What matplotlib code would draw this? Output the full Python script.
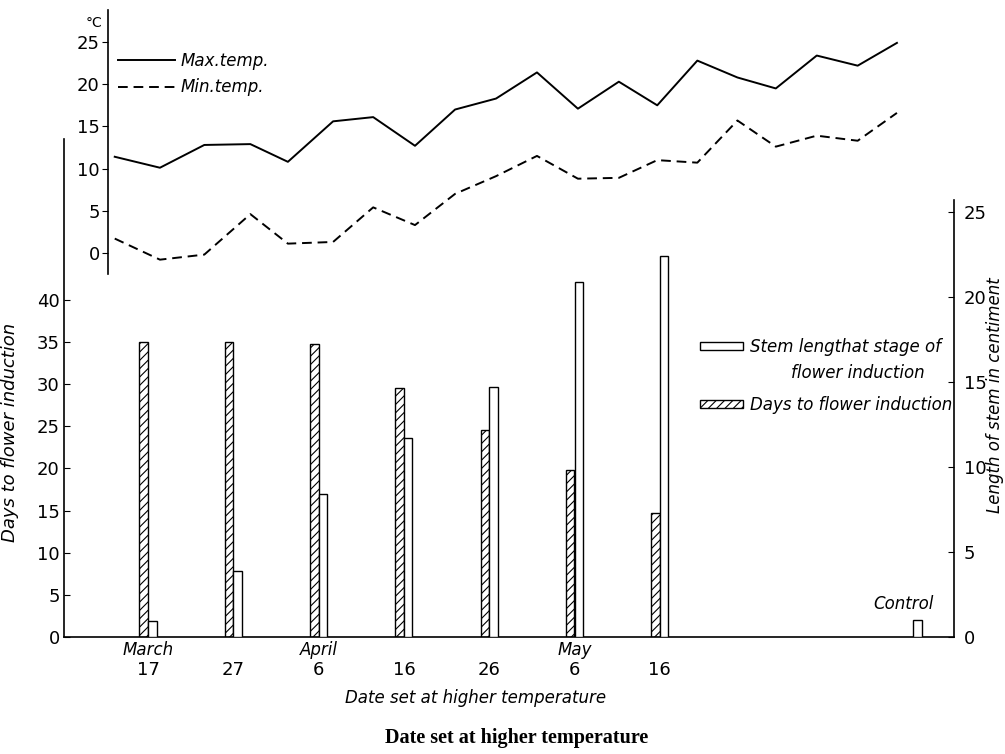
import numpy as np
import matplotlib.pyplot as plt
from matplotlib.lines import Line2D
from matplotlib.patches import Patch

# temperature (5-day means), x in days counted from March 1
temp_day = [13.1, 18.4, 23.6, 29.0, 33.4, 38.7, 43.4, 48.3, 53.0, 57.8,
            62.6, 67.4, 72.2, 76.7, 81.4, 86.1, 90.6, 95.4, 100.2, 104.8]
max_temp = [11.4, 10.1, 12.8, 12.9, 10.8, 15.6, 16.1, 12.7, 17.0, 18.3,
            21.4, 17.1, 20.3, 17.5, 22.8, 20.8, 19.5, 23.4, 22.2, 24.9]
min_temp = [1.7, -0.8, -0.2, 4.6, 1.1, 1.3, 5.4, 3.3, 7.0, 9.1,
            11.5, 8.8, 8.9, 11.0, 10.7, 15.7, 12.6, 13.9, 13.3, 16.6]

# dates set at higher temperature
set_day = [17, 27, 37, 47, 57, 67, 77]
date_labels = ['17', '27', '6', '16', '26', '6', '16']
month_day = [17, 37, 67]
month_labels = ['March', 'April', 'May']

days_to_flower = [35, 35, 34.8, 29.6, 24.6, 19.8, 14.7]
stem_length = [0.95, 3.9, 8.4, 11.7, 14.7, 20.9, 22.4]
control_day = 107.2
control_stem = 1.0

plt.rcParams['hatch.linewidth'] = 0.8
plt.rcParams['font.family'] = 'DejaVu Sans'

W, H = 1005, 754
fig = plt.figure(figsize=(W / 100, H / 100), dpi=100)

def px_box(x0, x1, ytop, ybot):
    return [x0 / W, 1 - ybot / H, (x1 - x0) / W, (ybot - ytop) / H]

# day <-> pixel: day 17 at x=148, 8.53 px per day
def px_day(px):
    return 17 + (px - 148) / 8.53

ital = dict(style='italic', fontsize=12)

# ---- bars (days, left axis) ----
ax = fig.add_axes(px_box(64, 954, 139, 637))
ax.patch.set_alpha(0)
ax.set_xlim(px_day(64), px_day(954))
ax.set_ylim(0, 59.1)
ax.bar(np.array(set_day) - 0.5, days_to_flower, width=1.0, facecolor='white',
       edgecolor='black', hatch='////', linewidth=1.0)
ax.set_yticks(np.arange(0, 41, 5))
ax.tick_params(axis='y', direction='in', length=4, pad=3, labelsize=13)
ax.set_xticks(set_day)
ax.set_xticklabels(date_labels)
ax.tick_params(axis='x', length=0, pad=17, labelsize=13)
for d, m in zip(month_day, month_labels):
    ax.annotate(m, xy=(d, 0), xycoords=('data', 'axes fraction'),
                xytext=(0, -3), textcoords='offset points',
                ha='center', va='top', **ital)
for s in ['top', 'right']:
    ax.spines[s].set_visible(False)
for s in ['left', 'bottom']:
    ax.spines[s].set_linewidth(1.2)
ax.set_xlabel('Date set at higher temperature', **ital)
ax.xaxis.set_label_coords(0.462, -0.105)
ax.set_ylabel('Days to flower induction', fontsize=13, style='italic')
ax.yaxis.set_label_coords(-0.05, 0.41)

# ---- stem length (right axis) ----
ax2 = ax.twinx()
ax2.set_ylim(0, 29.3)
ax2.bar(np.array(set_day) + 0.5, stem_length, width=1.0, facecolor='white',
        edgecolor='black', linewidth=1.0)
ax2.bar([control_day], [control_stem], width=1.0, facecolor='white',
        edgecolor='black', linewidth=1.0)
ax2.annotate('Control', xy=(control_day, control_stem), xytext=(-10, 5),
             textcoords='offset points', ha='center', va='bottom', **ital)
ax2.set_yticks(np.arange(0, 26, 5))
ax2.tick_params(axis='y', direction='in', length=4, pad=7, labelsize=13)
for s in ['top', 'left', 'bottom']:
    ax2.spines[s].set_visible(False)
ax2.spines['right'].set_linewidth(1.2)
ax2.spines['right'].set_bounds(0, 25.7)
ax2.set_ylabel('Length of stem in centiment', fontsize=12, style='italic')
ax2.yaxis.set_label_coords(1.036, 0.486)

fig.legend(handles=[Patch(facecolor='white', edgecolor='black', linewidth=1.0),
                    Patch(facecolor='white', edgecolor='black', hatch='////', linewidth=1.0)],
           labels=['Stem lengthat stage of', 'Days to flower induction'],
           loc='upper left', bbox_to_anchor=(700 / W, 1 - 338 / H),
           frameon=False, handlelength=2.6, handleheight=0.42, handletextpad=0.4,
           labelspacing=2.4, borderpad=0, borderaxespad=0,
           prop=dict(style='italic', size=12))
fig.text(925 / W, 1 - 373 / H, 'flower induction', ha='right', va='center', **ital)

# ---- temperature ----
axt = fig.add_axes(px_box(108, 954, 10, 274))
axt.patch.set_alpha(0)
axt.set_xlim(px_day(108), px_day(954))
axt.set_ylim(-2.5, 28.8)
axt.plot(temp_day, max_temp, color='black', lw=1.4, label='Max.temp.')
axt.plot(temp_day, min_temp, color='black', lw=1.4, ls=(0, (5, 3)), label='Min.temp.')
axt.set_yticks(np.arange(0, 26, 5))
axt.tick_params(axis='y', direction='out', length=4, pad=2, labelsize=13)
axt.set_xticks([])
for s in ['top', 'right', 'bottom']:
    axt.spines[s].set_visible(False)
axt.spines['left'].set_linewidth(1.2)
axt.annotate('°C', xy=(0, 1), xycoords='axes fraction', xytext=(-4, -4),
             textcoords='offset points', ha='right', va='top', fontsize=10)
axt.legend(loc='upper left', bbox_to_anchor=(118 / W, 1 - 52 / H),
           bbox_transform=fig.transFigure, frameon=False, handlelength=3.4,
           handletextpad=0.35, labelspacing=0.5, borderpad=0, borderaxespad=0,
           prop=dict(style='italic', size=12))

fig.text(517 / W, 1 - 738 / H, 'Date set at higher temperature', ha='center',
         va='center', fontsize=14.5, fontweight='bold', family='Liberation Serif')

fig.savefig('out.png', dpi=100)
